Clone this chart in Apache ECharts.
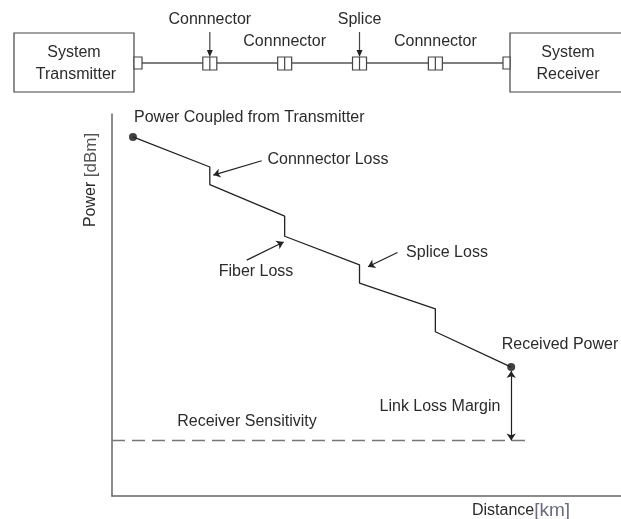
<!DOCTYPE html>
<html>
<head>
<meta charset="utf-8">
<script src="https://cdn.jsdelivr.net/npm/echarts@6/dist/echarts.min.js"></script>
<style>
  html, body { margin: 0; padding: 0; background: #fff; }
  #chart { width: 621px; height: 519px; }
</style>
</head>
<body>
<div id="chart"></div>
<script>
// link budget data (distance in km, power in dBm)
const eventNames = ["Transmitter", "Connnector", "Connnector", "Splice", "Connnector", "Receiver"];
const eventDistance = [4.2, 19.6, 34.6, 49.6, 64.8, 80];
const powerBefore = [-2.4, -5.55, -10.7, -15.8, -20.4, -26.5];
const powerAfter = [-2.4, -7.4, -12.8, -17.7, -22.8, -26.5];
const sensitivity = -34.2;
const sensitivityEnd = 83;

// path through the link: fiber slope, then a drop at each connector / splice
const path = [];
eventDistance.forEach(function (d, i) {
  path.push([d, powerBefore[i]]);
  if (powerAfter[i] !== powerBefore[i]) path.push([d, powerAfter[i]]);
});
const last = eventDistance.length - 1;

const font = "Liberation Sans, Arial, sans-serif";
const textColor = "#2b2b2b";
const fontSize = 16;

const chartElem = document.getElementById("chart");
let chart = echarts.init(chartElem, null, { renderer: "canvas" });

let option = {
  animation: false,
  grid: { left: 112, top: 114, right: 0, bottom: 23 },
  xAxis: {
    type: "value",
    min: 0,
    max: 102,
    axisLine: { show: true, onZero: false, lineStyle: { color: "#666", width: 1.5 } },
    axisTick: { show: false },
    axisLabel: { show: false },
    splitLine: { show: false },
  },
  yAxis: {
    type: "value",
    min: -40,
    max: 0,
    axisLine: { show: true, onZero: false, lineStyle: { color: "#666", width: 1.5 } },
    axisTick: { show: false },
    axisLabel: { show: false },
    splitLine: { show: false },
  },
  series: [
    {
      name: "Power",
      type: "line",
      data: path,
      symbol: "none",
      lineStyle: { color: "#222", width: 1.3 },
      markLine: {
        silent: true,
        symbol: ["none", "arrow"],
        symbolSize: 7,
        label: { show: false },
        lineStyle: { color: "#222", width: 1.2, type: "solid" },
        data: [
          [{ coord: [30, -4.9] }, { coord: [20.3, -6.4] }],
          [{ coord: [27, -15.3] }, { coord: [34.4, -13.4] }],
          [{ coord: [57.2, -14.5] }, { coord: [51.3, -16] }],
          [
            { coord: [eventDistance[last], powerAfter[last] - 0.4], symbol: "arrow" },
            { coord: [eventDistance[last], sensitivity] },
          ],
        ],
      },
    },
    {
      name: "Endpoints",
      type: "scatter",
      data: [
        [eventDistance[0], powerBefore[0]],
        [eventDistance[last], powerAfter[last]],
      ],
      symbolSize: 8,
      itemStyle: { color: "#111" },
    },
    {
      name: "Receiver Sensitivity",
      type: "line",
      data: [
        [0, sensitivity],
        [sensitivityEnd, sensitivity],
      ],
      symbol: "none",
      lineStyle: { color: "#777", width: 1.5, type: [13, 7] },
    },
  ],
};

chart.setOption(option);

// schematic of the link on top, connectors lined up with the loss steps
function txt(x, y, s, align) {
  const a = align || "center";
  return {
    type: "text",
    x: x,
    y: y,
    style: {
      text: s,
      fill: textColor,
      font: fontSize + "px " + font,
      textAlign: a,
      textVerticalAlign: "middle",
      align: a,
      verticalAlign: "middle",
    },
  };
}
function box(x, y, w, h) {
  return {
    type: "rect",
    shape: { x: x, y: y, width: w, height: h },
    style: { fill: "#fff", stroke: "#444", lineWidth: 1.2 },
  };
}
function vline(x, y1, y2) {
  return {
    type: "line",
    shape: { x1: x, y1: y1, x2: x, y2: y2 },
    style: { stroke: "#444", lineWidth: 1.2 },
  };
}

const fiberY = 63;
const graphic = [];
graphic.push({
  type: "line",
  shape: { x1: 142, y1: fiberY, x2: 503, y2: fiberY },
  style: { stroke: "#555", lineWidth: 1.3 },
});
graphic.push(box(14, 33, 120, 59));
graphic.push(box(134, 57, 8, 12));
graphic.push(txt(74, 53, "System"));
graphic.push(txt(76, 75, "Transmitter"));
graphic.push(box(510, 33, 115, 59));
graphic.push(box(503, 57, 7, 12));
graphic.push(txt(568, 53, "System"));
graphic.push(txt(568, 75, "Receiver"));

for (let i = 1; i < last; i++) {
  const px = chart.convertToPixel({ gridIndex: 0 }, [eventDistance[i], 0])[0];
  graphic.push(box(px - 7, 57, 14, 13));
  graphic.push(vline(px, 57, 70));
  const high = i % 2 === 1;
  graphic.push(txt(px, high ? 20 : 42, eventNames[i]));
  if (high) {
    graphic.push(vline(px, 32, 52));
    graphic.push({
      type: "polygon",
      shape: { points: [[px - 3, 50], [px + 3, 50], [px, 57]] },
      style: { fill: "#222" },
    });
  }
}

// annotations in the plot
graphic.push(txt(134, 118, "Power Coupled from Transmitter", "left"));
graphic.push(txt(328, 160, "Connnector Loss"));
graphic.push(txt(256, 272, "Fiber Loss"));
graphic.push(txt(447, 253, "Splice Loss"));
graphic.push(txt(560, 345, "Received Power"));
graphic.push(txt(440, 407, "Link Loss Margin"));
graphic.push(txt(247, 422, "Receiver Sensitivity"));
graphic.push({
  type: "text",
  x: 91,
  y: 180,
  rotation: Math.PI / 2,
  style: {
    text: "{a|Power }{b|[dBm]}",
    textAlign: "center",
    textVerticalAlign: "middle",
    align: "center",
    verticalAlign: "middle",
    rich: {
      a: { fill: textColor, font: fontSize + "px " + font },
      b: { fill: "#555", font: "17px " + font },
    },
  },
});
graphic.push({
  type: "text",
  x: 521,
  y: 511,
  style: {
    text: "{a|Distance}{b|[km]}",
    textAlign: "center",
    textVerticalAlign: "middle",
    align: "center",
    verticalAlign: "middle",
    rich: {
      a: { fill: textColor, font: fontSize + "px " + font },
      b: { fill: "#6a6a80", font: "19px " + font },
    },
  },
});

chart.setOption({ graphic: graphic });
</script>
</body>
</html>
